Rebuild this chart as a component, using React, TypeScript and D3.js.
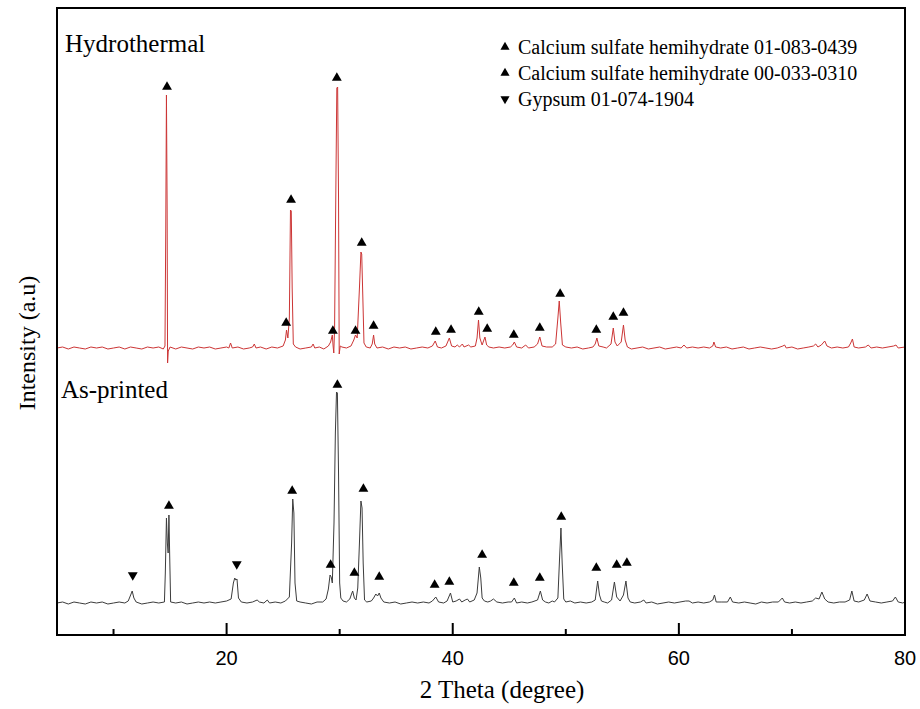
import * as d3 from "d3";
import { useEffect, useRef } from "react";

// 2θ (degree), intensity above baseline (a.u.)
const hydrothermal: [number, number][] = [
  [5, 0], [5.5, 1], [6, -1], [6.5, 1], [7, 0], [7.5, -1], [8, 1], [8.5, 0], [9, 1], [9.5, -1],
  [10, 0], [10.5, 1], [11, -1], [11.5, 1], [12, 0], [12.5, -1], [13, 1], [13.5, 0], [14, 1], [14.4, -1],
  [14.55, 2], [14.62, 120], [14.68, 253], [14.74, 140], [14.78, -15], [14.84, -3], [15, 1], [15.5, -1],
  [16, 1], [16.5, 0], [17, -1], [17.5, 1], [18, 0], [18.5, 1], [19, -1], [19.5, 0], [20, 1], [20.2, 0],
  [20.35, 5], [20.5, 0], [21, 1], [21.5, -1], [22, 0], [22.3, 1], [22.45, 4], [22.6, 0], [23, 1],
  [23.5, -1], [24, 1], [24.5, 0], [25, 2], [25.2, 8], [25.3, 18], [25.42, 10], [25.55, 30], [25.65, 138],
  [25.72, 137], [25.8, 60], [25.9, 4], [26.1, 1], [26.5, -1], [27, 0], [27.5, 1], [27.65, 4], [27.8, 0],
  [28.2, 1], [28.6, -1], [29, 2], [29.2, 6], [29.35, 13], [29.42, 2], [29.48, -5], [29.55, 20],
  [29.68, 180], [29.75, 260], [29.82, 261], [29.9, 150], [29.96, -6], [30.05, 2], [30.2, 1], [30.6, 0],
  [31, 2], [31.25, 8], [31.4, 13], [31.55, 10], [31.75, 60], [31.88, 96], [31.95, 94], [32.05, 50],
  [32.15, 5], [32.35, 1], [32.7, 0], [32.88, 4], [33, 13], [33.1, 4], [33.3, 0], [33.8, 1], [34.3, -1],
  [34.8, 1], [35.3, 0], [35.8, 1], [36.3, -1], [36.8, 0], [37.3, 1], [37.8, 0], [38.2, 2], [38.45, 7],
  [38.65, 1], [39, 0], [39.4, 2], [39.7, 10], [39.9, 2], [40.2, 1], [40.4, 3], [40.6, 1], [40.85, 4],
  [41, 1], [41.4, 3], [41.6, 1], [42, 2], [42.15, 10], [42.28, 28], [42.4, 10], [42.6, 3], [42.85, 11],
  [43, 3], [43.2, 1], [43.6, 0], [44.1, 1], [44.6, 0], [45.1, 1], [45.3, 3], [45.45, 6], [45.65, 1],
  [46.1, 0], [46.45, 3], [46.7, 0], [47.2, 1], [47.5, 4], [47.7, 11], [47.9, 2], [48.3, 1], [48.8, 1],
  [49.1, 4], [49.3, 30], [49.42, 47], [49.55, 25], [49.7, 3], [50, 1], [50.5, 0], [51, 1], [51.5, -1],
  [52, 0], [52.4, 1], [52.6, 4], [52.75, 10], [52.92, 2], [53.3, 1], [53.6, 0], [54, 4], [54.2, 20],
  [54.35, 6], [54.55, 2], [54.9, 6], [55.1, 23], [55.25, 8], [55.45, 1], [55.8, -1], [56.3, 0],
  [56.8, 1], [57.3, -1], [57.8, 0], [58.3, 1], [58.8, -1], [59.3, 0], [59.8, 1], [60.2, 0], [60.45, 3],
  [60.7, 0], [61.2, 1], [61.7, 0], [62.2, 1], [62.7, 0], [63, 2], [63.1, 6], [63.25, 1], [63.7, 0],
  [64.2, 1], [64.7, -1], [65.2, 0], [65.7, 1], [66.2, -1], [66.7, 0], [67.2, 1], [67.7, 0], [68.2, -1],
  [68.7, 0], [69.2, 2], [69.35, 3], [69.5, 0], [70, 1], [70.5, -1], [71, 0], [71.5, 1], [71.9, 2],
  [72.1, 4], [72.3, 1], [72.6, 3], [72.9, 7], [73.1, 2], [73.5, 0], [74, 1], [74.5, 0], [75, 1],
  [75.2, 5], [75.35, 9], [75.5, 1], [75.9, 0], [76.5, 1], [76.75, 3], [77, 0], [77.5, 1], [78, 0],
  [78.5, 1], [79, 2], [79.2, 3], [79.4, 0], [80, 1],
];

const asPrinted: [number, number][] = [
  [5, 0], [5.5, 1], [6, -1], [6.5, 1], [7, 0], [7.5, -1], [8, 1], [8.5, 0], [9, 1], [9.5, -1],
  [10, 0], [10.5, 1], [11, 0], [11.3, 2], [11.55, 9], [11.65, 12], [11.8, 5], [12, 1], [12.5, -1],
  [13, 0], [13.5, 1], [14, 0], [14.5, 1], [14.58, 30], [14.68, 85], [14.76, 60], [14.83, 50],
  [14.9, 88], [14.98, 40], [15.05, 1], [15.5, 0], [16, 1], [16.5, -1], [17, 0], [17.5, 1], [18, 0],
  [18.5, 1], [19, 0], [19.5, 1], [20, 2], [20.4, 4], [20.6, 20], [20.72, 25], [20.82, 23], [20.92, 24],
  [21.05, 5], [21.3, 1], [21.8, 0], [22.3, 1], [22.7, 3], [22.9, 1], [23.3, 0], [23.6, 3], [23.8, 0],
  [24.3, 1], [24.8, 0], [25.2, 2], [25.55, 6], [25.75, 60], [25.85, 104], [25.95, 90], [26.05, 20],
  [26.2, 2], [26.5, 1], [27, 0], [27.5, -1], [28, 1], [28.5, 1], [28.8, 4], [29, 14], [29.15, 28],
  [29.25, 26], [29.35, 20], [29.5, 80], [29.62, 170], [29.72, 211], [29.8, 210], [29.9, 130],
  [30, 20], [30.1, 5], [30.3, 2], [30.6, 1], [30.9, 4], [31.05, 9], [31.15, 12], [31.3, 5], [31.45, 3],
  [31.6, 15], [31.75, 60], [31.88, 102], [31.98, 95], [32.08, 40], [32.2, 3], [32.4, 1], [32.8, 2],
  [33, 5], [33.2, 9], [33.35, 7], [33.5, 10], [33.65, 5], [33.9, 1], [34.4, 0], [34.9, 1], [35.4, -1],
  [35.9, 0], [36.4, 1], [36.9, 0], [37.4, 1], [37.9, 0], [38.2, 2], [38.5, 6], [38.75, 1], [39.2, 0],
  [39.5, 2], [39.8, 10], [40, 1], [40.3, 2], [40.6, 4], [40.8, 1], [41.1, 3], [41.3, 4], [41.5, 1],
  [41.9, 3], [42.15, 10], [42.35, 36], [42.48, 25], [42.6, 5], [42.8, 2], [43.1, 1], [43.35, 2],
  [43.6, 4], [43.9, 1], [44.4, 0], [44.9, 1], [45.2, 1], [45.45, 5], [45.65, 0], [46.1, 1], [46.6, 0],
  [47, 1], [47.5, 3], [47.75, 12], [47.95, 3], [48.2, 1], [48.5, 0], [48.8, 2], [49, 1], [49.3, 5],
  [49.45, 45], [49.57, 75], [49.68, 40], [49.82, 4], [50, 1], [50.4, 2], [50.8, 0], [51.3, 1],
  [51.8, 0], [52.3, 1], [52.6, 3], [52.82, 22], [52.98, 8], [53.15, 2], [53.4, 1], [53.7, 0],
  [54.05, 3], [54.3, 21], [54.5, 6], [54.8, 2], [55.1, 8], [55.32, 22], [55.5, 5], [55.7, 1],
  [56.1, 0], [56.6, 1], [56.9, 3], [57.1, 0], [57.6, 1], [58.1, -1], [58.6, 0], [59.1, 1], [59.6, 0],
  [60.1, 1], [60.6, 2], [60.9, 2], [61.2, 0], [61.7, 1], [62.2, 0], [62.7, 1], [63, 3], [63.15, 8],
  [63.3, 1], [63.8, 1], [64.3, 1], [64.55, 6], [64.75, 1], [65.3, 0], [65.8, 1], [66.3, 0], [66.8, -1],
  [67.3, 1], [67.8, 0], [68.3, 1], [68.8, 1], [69.15, 5], [69.35, 1], [69.8, 0], [70.3, 1], [70.8, 0],
  [71.3, 1], [71.8, 2], [72.1, 5], [72.4, 4], [72.65, 11], [72.9, 4], [73.2, 1], [73.7, 0], [74.2, 1],
  [74.7, 1], [75.1, 3], [75.3, 12], [75.5, 2], [75.9, 1], [76.4, 3], [76.65, 9], [76.9, 2], [77.4, 1],
  [77.9, 0], [78.4, 1], [78.9, 2], [79.15, 6], [79.4, 1], [79.8, 0], [80, 1],
];

// phase markers: 2θ, level above baseline, "up" = hemihydrate, "down" = gypsum
const hydroMarks: [number, number, string][] = [
  [14.73, 261, "up"], [25.27, 25, "up"], [25.7, 148, "up"], [29.4, 17, "up"], [29.75, 270, "up"],
  [31.4, 17, "up"], [31.95, 105, "up"], [33.0, 22, "up"], [38.5, 16, "up"], [39.85, 18, "up"],
  [42.3, 36, "up"], [43.05, 19, "up"], [45.4, 13, "up"], [47.7, 20, "up"], [49.5, 54, "up"],
  [52.7, 18, "up"], [54.2, 31, "up"], [55.1, 35, "up"],
];

const printedMarks: [number, number, string][] = [
  [11.7, 28, "down"], [14.9, 97, "up"], [20.9, 39, "down"], [25.8, 112, "up"], [29.2, 38, "up"],
  [29.8, 218, "up"], [31.3, 30, "up"], [32.1, 114, "up"], [33.5, 26, "up"], [38.4, 18, "up"],
  [39.7, 21, "up"], [42.6, 48, "up"], [45.4, 20, "up"], [47.7, 25, "up"], [49.6, 86, "up"],
  [52.7, 35, "up"], [54.5, 38, "up"], [55.4, 40, "up"],
];

const majorTicks = [20, 40, 60, 80];
const minorTicks = [10, 30, 50, 70];

const legendItems: [string, string][] = [
  ["up", "Calcium sulfate hemihydrate 01-083-0439"],
  ["up", "Calcium sulfate hemihydrate 00-033-0310"],
  ["down", "Gypsum 01-074-1904"],
];

const App = () => {
  const ref = useRef<SVGSVGElement>(null);
  const width = 920;
  const height = 709;
  const left = 57, right = 905, top = 8, bottom = 635;
  const printedOffset = 32;
  const hydroOffset = 287;

  useEffect(() => {
    const svg = d3.select(ref.current);
    svg.selectAll("*").remove();

    const x = d3.scaleLinear().domain([5, 80]).range([left, right]);
    const y = d3.scaleLinear().domain([0, bottom - top]).range([bottom, top]);

    const serif = "'Liberation Serif', 'Times New Roman', serif";
    const sans = "'Liberation Sans', Arial, sans-serif";

    const drawSpectrum = (data: [number, number][], offset: number, color: string) => {
      const line = d3
        .line<[number, number]>()
        .x((d) => x(d[0]))
        .y((d) => y(d[1] + offset));
      svg
        .append("path")
        .attr("d", line(data))
        .attr("fill", "none")
        .attr("stroke", color)
        .attr("stroke-width", 1)
        .attr("stroke-linejoin", "round");
    };

    drawSpectrum(asPrinted, printedOffset, "#3c3c3c");
    drawSpectrum(hydrothermal, hydroOffset, "#cc3535");

    const tri = d3.symbol(d3.symbolTriangle, 42);
    const drawMarks = (marks: [number, number, string][], offset: number) => {
      svg
        .append("g")
        .selectAll("path")
        .data(marks)
        .enter()
        .append("path")
        .attr("d", tri)
        .attr("fill", "#000")
        .attr(
          "transform",
          (d) => `translate(${x(d[0])},${y(d[1] + offset)})${d[2] === "down" ? " rotate(180)" : ""}`
        );
    };
    drawMarks(hydroMarks, hydroOffset);
    drawMarks(printedMarks, printedOffset);

    // frame
    svg
      .append("rect")
      .attr("x", left)
      .attr("y", top)
      .attr("width", right - left)
      .attr("height", bottom - top)
      .attr("fill", "none")
      .attr("stroke", "#000")
      .attr("stroke-width", 2);

    // inward ticks on the bottom axis
    const ticks = svg.append("g");
    ticks
      .selectAll(".major")
      .data(majorTicks)
      .enter()
      .append("line")
      .attr("x1", (d) => x(d))
      .attr("x2", (d) => x(d))
      .attr("y1", bottom)
      .attr("y2", bottom - 12)
      .attr("stroke", "#000")
      .attr("stroke-width", 2);
    ticks
      .selectAll(".minor")
      .data(minorTicks)
      .enter()
      .append("line")
      .attr("x1", (d) => x(d))
      .attr("x2", (d) => x(d))
      .attr("y1", bottom)
      .attr("y2", bottom - 6)
      .attr("stroke", "#000")
      .attr("stroke-width", 2);
    ticks
      .selectAll("text")
      .data(majorTicks)
      .enter()
      .append("text")
      .attr("x", (d) => x(d))
      .attr("y", bottom + 30)
      .attr("text-anchor", "middle")
      .attr("font-family", sans)
      .attr("font-size", 20)
      .text((d) => d);

    svg
      .append("text")
      .attr("x", 502)
      .attr("y", 698)
      .attr("text-anchor", "middle")
      .attr("font-family", serif)
      .attr("font-size", 25)
      .text("2 Theta (degree)");

    svg
      .append("text")
      .attr("transform", `translate(35, 343) rotate(-90)`)
      .attr("text-anchor", "middle")
      .attr("font-family", serif)
      .attr("font-size", 24)
      .text("Intensity (a.u)");

    svg
      .append("text")
      .attr("x", 65)
      .attr("y", 52)
      .attr("font-family", serif)
      .attr("font-size", 25)
      .text("Hydrothermal");

    svg
      .append("text")
      .attr("x", 61)
      .attr("y", 398)
      .attr("font-family", serif)
      .attr("font-size", 25)
      .text("As-printed");

    // legend
    const legendTri = d3.symbol(d3.symbolTriangle, 36);
    const legend = svg
      .append("g")
      .selectAll("g")
      .data(legendItems)
      .enter()
      .append("g")
      .attr("transform", (_, i) => `translate(505, ${47 + i * 26})`);
    legend
      .append("path")
      .attr("d", legendTri)
      .attr("fill", "#000")
      .attr("transform", (d) => (d[0] === "down" ? "rotate(180)" : ""));
    legend
      .append("text")
      .attr("x", 13)
      .attr("y", 7)
      .attr("font-family", serif)
      .attr("font-size", 20)
      .text((d) => d[1]);
  }, []);

  return (
    <svg
      ref={ref}
      width={width}
      height={height}
      style={{ position: "absolute", left: 0, top: 0, background: "#fff" }}
    />
  );
};

export default App;
